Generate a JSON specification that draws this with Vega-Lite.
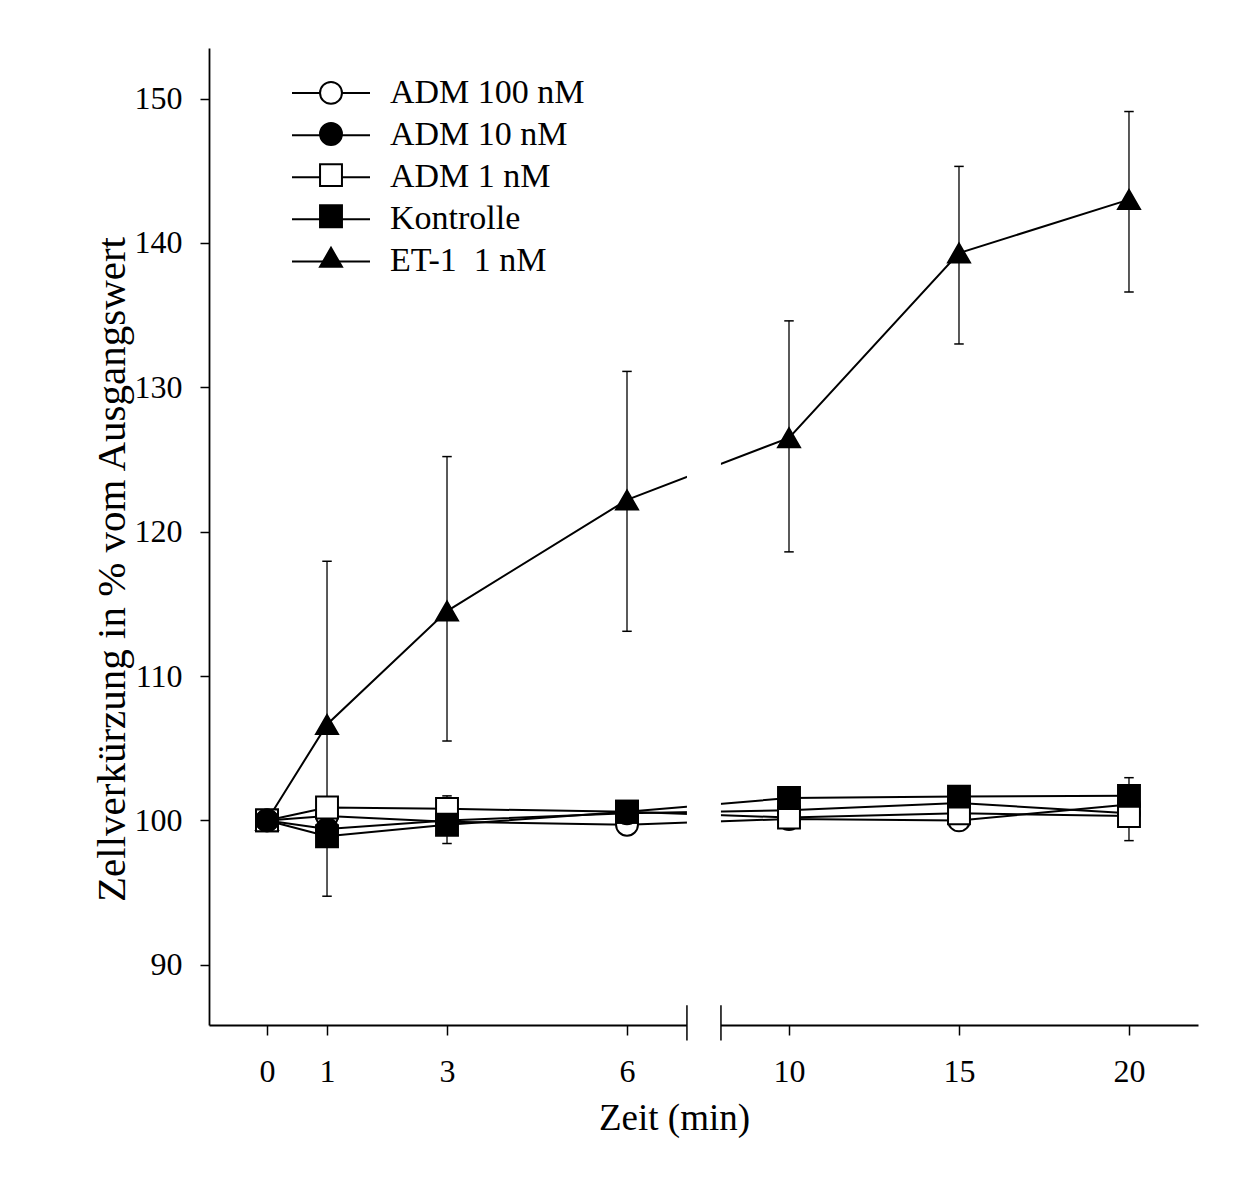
{
  "$schema": "https://vega.github.io/schema/vega-lite/v6.json",
  "autosize": {"type": "none"},
  "padding": {"left": 209, "top": 48, "right": 59, "bottom": 175},
  "width": 989,
  "height": 977,
  "background": "white",
  "config": {"view": {"stroke": null}, "font": "Liberation Serif"},
  "datasets": {
    "series": [
      {"group": "ET-1\u00a0 1 nM", "t": 0, "v": 100},
      {"group": "Kontrolle", "t": 0, "v": 100},
      {"group": "ADM 1 nM", "t": 0, "v": 100},
      {"group": "ADM 100 nM", "t": 0, "v": 100},
      {"group": "ADM 10 nM", "t": 0, "v": 100},
      {"group": "ADM 100 nM", "t": 1, "v": 100.3},
      {"group": "ADM 100 nM", "t": 3, "v": 99.9},
      {"group": "ADM 100 nM", "t": 6, "v": 99.7},
      {"group": "ADM 100 nM", "t": 10, "v": 100.1},
      {"group": "ADM 100 nM", "t": 15, "v": 100.0},
      {"group": "ADM 100 nM", "t": 20, "v": 101.1},
      {"group": "ADM 10 nM", "t": 1, "v": 99.4},
      {"group": "ADM 10 nM", "t": 3, "v": 100.0},
      {"group": "ADM 10 nM", "t": 6, "v": 100.5},
      {"group": "ADM 10 nM", "t": 10, "v": 100.7},
      {"group": "ADM 10 nM", "t": 15, "v": 101.2},
      {"group": "ADM 10 nM", "t": 20, "v": 100.5},
      {"group": "ADM 1 nM", "t": 1, "v": 100.9},
      {"group": "ADM 1 nM", "t": 3, "v": 100.8},
      {"group": "ADM 1 nM", "t": 6, "v": 100.6},
      {"group": "ADM 1 nM", "t": 10, "v": 100.2},
      {"group": "ADM 1 nM", "t": 15, "v": 100.5},
      {"group": "ADM 1 nM", "t": 20, "v": 100.3},
      {"group": "Kontrolle", "t": 1, "v": 98.9},
      {"group": "Kontrolle", "t": 3, "v": 99.7},
      {"group": "Kontrolle", "t": 6, "v": 100.6},
      {"group": "Kontrolle", "t": 10, "v": 101.55},
      {"group": "Kontrolle", "t": 15, "v": 101.65},
      {"group": "Kontrolle", "t": 20, "v": 101.7},
      {"group": "ET-1\u00a0 1 nM", "t": 1, "v": 106.65},
      {"group": "ET-1\u00a0 1 nM", "t": 3, "v": 114.5},
      {"group": "ET-1\u00a0 1 nM", "t": 6, "v": 122.2},
      {"group": "ET-1\u00a0 1 nM", "t": 10, "v": 126.5},
      {"group": "ET-1\u00a0 1 nM", "t": 15, "v": 139.3},
      {"group": "ET-1\u00a0 1 nM", "t": 20, "v": 143.0}
    ],
    "err": [
      {"group": "ET-1\u00a0 1 nM", "t": 1, "lo": 94.75, "hi": 117.95},
      {"group": "ET-1\u00a0 1 nM", "t": 3, "lo": 105.5, "hi": 125.2},
      {"group": "ET-1\u00a0 1 nM", "t": 6, "lo": 113.1, "hi": 131.1},
      {"group": "ET-1\u00a0 1 nM", "t": 10, "lo": 118.6, "hi": 134.6},
      {"group": "ET-1\u00a0 1 nM", "t": 15, "lo": 133.0, "hi": 145.3},
      {"group": "ET-1\u00a0 1 nM", "t": 20, "lo": 136.6, "hi": 149.1},
      {"group": "ADM 10 nM", "t": 3, "lo": 98.4, "hi": 101.7},
      {"group": "ADM 100 nM", "t": 20, "lo": 98.6, "hi": 102.96}
    ]
  },
  "layer": [
    {
      "data": {"name": "series"},
      "mark": {"type": "line", "strokeWidth": 2},
      "encoding": {
        "x": {
          "field": "t", "type": "quantitative",
          "scale": {"domain": [-0.967, 6, 10, 22.03], "range": [0, 418, 580, 989], "nice": false, "zero": false},
          "axis": {
            "values": [0, 1, 3, 6, 10, 15, 20], "title": "Zeit (min)", "grid": false, "zindex": 0,
            "domainColor": "black", "domainWidth": 1.8, "tickColor": "black", "tickWidth": 1.5, "tickSize": 10,
            "labelFont": "Liberation Serif", "labelFontSize": 32, "labelColor": "black", "labelPadding": 21,
            "labelFlush": false, "labelOverlap": false,
            "titleFont": "Liberation Serif", "titleFontSize": 37, "titleFontWeight": "normal", "titleColor": "black",
            "titleX": 465, "titleY": 104, "titleBaseline": "alphabetic"
          }
        },
        "y": {
          "field": "v", "type": "quantitative",
          "scale": {"domain": [85.83, 153.5], "nice": false, "zero": false},
          "axis": {
            "values": [90, 100, 110, 120, 130, 140, 150], "title": "Zellverkürzung in % vom Ausgangswert", "grid": false, "zindex": 0,
            "domainColor": "black", "domainWidth": 1.8, "tickColor": "black", "tickWidth": 1.5, "tickSize": 9,
            "labelFont": "Liberation Serif", "labelFontSize": 32, "labelColor": "black", "labelPadding": 18,
            "labelFlush": false, "labelOverlap": false,
            "titleFont": "Liberation Serif", "titleFontSize": 41, "titleFontWeight": "normal", "titleColor": "black",
            "titleX": -85, "titleY": 521, "titleBaseline": "alphabetic"
          }
        },
        "stroke": {
          "field": "group", "type": "nominal",
          "sort": ["ADM 100 nM", "ADM 10 nM", "ADM 1 nM", "Kontrolle", "ET-1\u00a0 1 nM"],
          "scale": {"range": ["black", "black", "black", "black", "black"]},
          "legend": {
            "orient": "none", "legendX": 82, "legendY": 27.9, "title": null, "padding": 0,
            "symbolType": "stroke", "symbolSize": 6084, "symbolStrokeWidth": 2, "symbolStrokeColor": "black",
            "labelFont": "Liberation Serif", "labelFontSize": 34, "labelColor": "black", "labelOffset": 19,
            "labelLimit": 400, "clipHeight": 34.25, "rowPadding": 7.1
          }
        }
      }
    },
    {
      "data": {"name": "err"},
      "mark": {"type": "rule", "strokeWidth": 1.3, "color": "black"},
      "encoding": {
        "x": {"field": "t", "type": "quantitative"},
        "y": {"field": "lo", "type": "quantitative"},
        "y2": {"field": "hi"}
      }
    },
    {
      "data": {"name": "err"},
      "mark": {"type": "point", "shape": "stroke", "size": 90, "filled": false, "stroke": "black", "strokeWidth": 1.5, "opacity": 1},
      "encoding": {
        "x": {"field": "t", "type": "quantitative"},
        "y": {"field": "lo", "type": "quantitative"}
      }
    },
    {
      "data": {"name": "err"},
      "mark": {"type": "point", "shape": "stroke", "size": 90, "filled": false, "stroke": "black", "strokeWidth": 1.5, "opacity": 1},
      "encoding": {
        "x": {"field": "t", "type": "quantitative"},
        "y": {"field": "hi", "type": "quantitative"}
      }
    },
    {
      "data": {"name": "series"},
      "mark": {"type": "point", "stroke": "black", "strokeWidth": 2, "opacity": 1},
      "encoding": {
        "x": {"field": "t", "type": "quantitative"},
        "y": {"field": "v", "type": "quantitative"},
        "shape": {
          "field": "group", "type": "nominal",
          "scale": {"domain": ["ADM 100 nM", "ADM 10 nM", "ADM 1 nM", "Kontrolle", "ET-1\u00a0 1 nM"], "range": ["circle", "circle", "square", "square", "triangle-up"]},
          "legend": {
            "orient": "none", "legendX": 105, "legendY": 27.9, "title": null, "padding": 0,
            "symbolStrokeColor": "black", "symbolStrokeWidth": 2, "symbolOpacity": 1,
            "labelFont": "Liberation Serif", "labelFontSize": 34, "labelColor": "black", "labelExpr": "''",
            "rowPadding": 7.1
          }
        },
        "fill": {
          "field": "group", "type": "nominal",
          "scale": {"domain": ["ADM 100 nM", "ADM 10 nM", "ADM 1 nM", "Kontrolle", "ET-1\u00a0 1 nM"], "range": ["white", "black", "white", "black", "black"]}
        },
        "size": {
          "field": "group", "type": "nominal",
          "scale": {"domain": ["ADM 100 nM", "ADM 10 nM", "ADM 1 nM", "Kontrolle", "ET-1\u00a0 1 nM"], "range": [480, 480, 420, 420, 600]}
        }
      }
    },
    {
      "data": {"values": [{}]},
      "mark": {"type": "rect", "color": "white", "strokeWidth": 0},
      "encoding": {
        "x": {"datum": 7.48, "type": "quantitative"},
        "x2": {"datum": 8.32},
        "y": {"datum": 85.2, "type": "quantitative"},
        "y2": {"datum": 154}
      }
    },
    {
      "data": {"values": [{}]},
      "mark": {"type": "rule", "color": "black", "strokeWidth": 1.5},
      "encoding": {
        "x": {"datum": 7.48, "type": "quantitative"},
        "y": {"datum": 84.75, "type": "quantitative"},
        "y2": {"datum": 87.2}
      }
    },
    {
      "data": {"values": [{}]},
      "mark": {"type": "rule", "color": "black", "strokeWidth": 1.5},
      "encoding": {
        "x": {"datum": 8.32, "type": "quantitative"},
        "y": {"datum": 84.75, "type": "quantitative"},
        "y2": {"datum": 87.2}
      }
    }
  ]
}
